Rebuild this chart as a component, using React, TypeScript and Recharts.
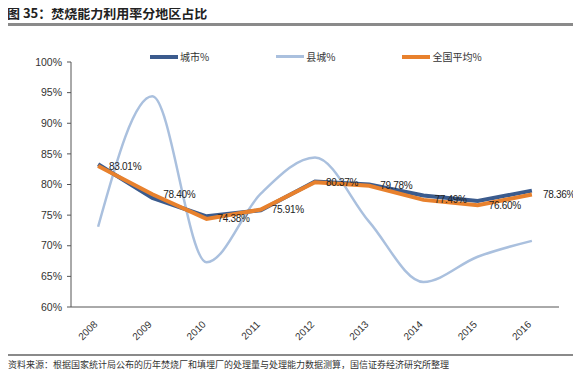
import React from "react";
import {
  LineChart,
  Line,
  XAxis,
  YAxis,
  Legend,
  LabelList,
} from "recharts";

const years = ["2008", "2009", "2010", "2011", "2012", "2013", "2014", "2015", "2016"];
const cityPct = [83.3, 77.8, 74.8, 75.8, 80.5, 80.0, 78.2, 77.3, 79.0];
const countyPct = [73.1, 94.4, 67.3, 78.5, 84.4, 73.9, 64.1, 68.2, 70.8];
const nationalPct = [83.01, 78.4, 74.38, 75.91, 80.37, 79.78, 77.49, 76.6, 78.36];
const yTicks = [60, 65, 70, 75, 80, 85, 90, 95, 100];

const data = years.map((y, i) => ({
  idx: i,
  year: y,
  city: cityPct[i],
  county: countyPct[i],
  national: nationalPct[i],
}));

const boundaryTicks = [-0.5, 0.5, 1.5, 2.5, 3.5, 4.5, 5.5, 6.5, 7.5, 8.5];
const centerTicks = years.map((_, i) => i);

const legendItems = [
  { name: "城市%", color: "#3b5b8d", w: 4 },
  { name: "县城%", color: "#aac0de", w: 2.5 },
  { name: "全国平均%", color: "#e8812d", w: 4 },
];

const font = "Arial, 'Liberation Sans', 'Noto Sans CJK SC', sans-serif";

function YearTick({ x, y, payload }: any) {
  return (
    <text
      x={x}
      y={y + 10}
      transform={`rotate(-45, ${x}, ${y + 10})`}
      textAnchor="end"
      fontSize={10}
      fontFamily={font}
      fill="#333"
    >
      {years[payload.value]}
    </text>
  );
}

function LegendBox() {
  return (
    <div style={{ display: "flex", fontFamily: "'Noto Sans CJK SC', sans-serif", fontSize: 10, color: "#333" }}>
      {legendItems.map((it, i) => (
        <div key={it.name} style={{ display: "flex", alignItems: "center", marginRight: i < 2 ? 67 : 0 }}>
          <div style={{ width: 28, height: it.w, background: it.color, marginRight: 2 }} />
          <span>{it.name}</span>
        </div>
      ))}
    </div>
  );
}

export default function App() {
  return (
    <div style={{ position: "relative", width: 581, height: 377, margin: -8, background: "#fff", overflow: "hidden" }}>
      <div style={{ position: "absolute", left: 0, top: 0, width: 581, height: 2, background: "#8a8a8a" }} />
      <div
        style={{
          position: "absolute",
          left: 7,
          top: 4,
          fontSize: 13,
          fontWeight: "bold",
          fontFamily: "'Noto Sans CJK SC', sans-serif",
          color: "#222",
          lineHeight: "18px",
        }}
      >
        图 35：焚烧能力利用率分地区占比
      </div>
      <div style={{ position: "absolute", left: 0, top: 23, width: 581, height: 3, background: "#8a8a8a" }} />

      <div style={{ position: "absolute", left: 0, top: 0 }}>
        <LineChart width={581} height={377} data={data} margin={{ top: 62, right: 22, bottom: 24, left: 0 }}>
          <XAxis
            dataKey="idx"
            type="number"
            domain={[-0.5, 8.5]}
            ticks={boundaryTicks}
            tick={false}
            tickSize={4}
            height={6}
            stroke="#555"
            allowDataOverflow
          />
          <XAxis
            xAxisId="lab"
            dataKey="idx"
            type="number"
            domain={[-0.5, 8.5]}
            ticks={centerTicks}
            tick={<YearTick />}
            tickLine={false}
            axisLine={false}
            tickSize={0}
            height={40}
          />
          <YAxis
            type="number"
            domain={[60, 100]}
            ticks={yTicks}
            tickFormatter={(v: number) => `${v}%`}
            width={71}
            tickSize={4}
            tickMargin={5}
            stroke="#555"
            tick={{ fontSize: 10.5, fill: "#333", fontFamily: font }}
          />
          <Legend
            verticalAlign="middle"
            align="center"
            content={() => <LegendBox />}
            wrapperStyle={{ position: "absolute", top: 49, left: 150, width: 400 }}
          />
          <Line
            type="monotone"
            dataKey="county"
            name="县城%"
            stroke="#aac0de"
            strokeWidth={2.5}
            dot={false}
            isAnimationActive={false}
          />
          <Line
            type="linear"
            dataKey="city"
            name="城市%"
            stroke="#3b5b8d"
            strokeWidth={4}
            dot={false}
            isAnimationActive={false}
          />
          <Line
            type="linear"
            dataKey="national"
            name="全国平均%"
            stroke="#e8812d"
            strokeWidth={4}
            dot={false}
            isAnimationActive={false}
          >
            <LabelList
              dataKey="national"
              position="right"
              offset={11}
              formatter={(v: any) => `${Number(v).toFixed(2)}%`}
              style={{ fontSize: 10, fill: "#222", fontFamily: font, letterSpacing: -0.3 }}
            />
          </Line>
        </LineChart>
      </div>

      <div style={{ position: "absolute", left: 0, top: 354, width: 581, height: 2, background: "#8a8a8a" }} />
      <div
        style={{
          position: "absolute",
          left: 8,
          top: 358,
          fontSize: 9,
          fontFamily: "'Noto Sans CJK SC', sans-serif",
          color: "#333",
          lineHeight: "14px",
          whiteSpace: "nowrap",
        }}
      >
        资料来源：根据国家统计局公布的历年焚烧厂和填埋厂的处理量与处理能力数据测算，国信证券经济研究所整理
      </div>
    </div>
  );
}
